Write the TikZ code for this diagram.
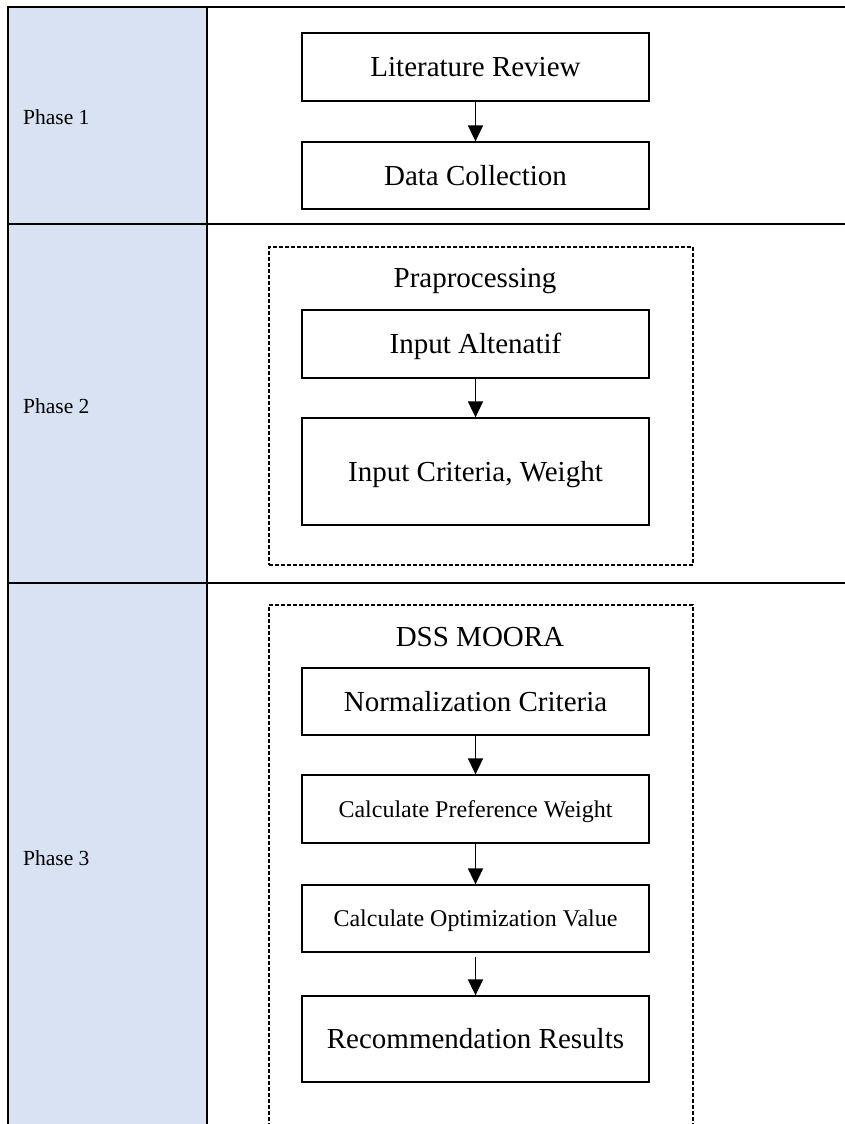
\documentclass[tikz,border=0pt]{standalone}
\usepackage{fontspec}
\setmainfont{Liberation Serif}
\usetikzlibrary{arrows.meta}
\definecolor{phasefill}{HTML}{D9E2F3}
\begin{document}
\begin{tikzpicture}[x=1pt,y=-1pt,
  tableline/.style={draw=black,line width=2pt},
  phaselabel/.style={anchor=base west,inner sep=0pt,font=\fontsize{21.5}{25}\selectfont},
  stepbox/.style={draw=black,line width=1.3pt,minimum width=347pt,inner sep=0pt,align=center,
    font=\fontsize{29}{34}\selectfont,text height=25pt,text depth=6pt},
  smallstep/.style={stepbox,font=\fontsize{24}{28}\selectfont,text height=21pt,text depth=5pt},
  groupbox/.style={draw=black,line width=1.1pt,dash pattern=on 4pt off 2pt,inner sep=0pt,minimum width=424pt},
  grouptitle/.style={anchor=base,inner sep=0pt,font=\fontsize{29}{34}\selectfont},
  flow/.style={draw=black,line width=1.7pt,-{Triangle[width=15pt,length=16pt]}}
]
\useasboundingbox (0,0) rectangle (845,1124);
\clip (0,0) rectangle (845,1124);
\fill[white] (0,0) rectangle (845,1124);
% phase column
\fill[phasefill] (8,7) rectangle (207,1140);
\draw[tableline] (8,1140) -- (8,7) -- (850,7);
\draw[tableline] (207,7) -- (207,1140);
\draw[tableline] (8,224) -- (850,224);
\draw[tableline] (8,583) -- (850,583);
% phase labels
\node[phaselabel] (p1) at (23,124) {Phase 1};
\node[phaselabel] (p2) at (23,413) {Phase 2};
\node[phaselabel] (p3) at (23,865) {Phase 3};
% phase 1
\node[stepbox,minimum height=68pt] (lit) at (475.5,67) {Literature Review};
\node[stepbox,minimum height=67pt] (data) at (475.5,175.5) {Data Collection};
\draw[flow] (lit.south) -- (data.north);
% phase 2
\node[groupbox,minimum height=318pt] (pre) at (481,406) {};
\node[grouptitle] (pretitle) at (475,287) {Praprocessing};
\node[stepbox,minimum height=68pt] (alt) at (475.5,344) {Input Altenatif};
\node[stepbox,minimum height=107pt] (crit) at (475.5,471.5) {Input Criteria, Weight};
\draw[flow] (alt.south) -- (crit.north);
% phase 3
\node[groupbox,minimum height=560pt] (dss) at (481,885) {};
\node[grouptitle] (dsstitle) at (480,646) {DSS MOORA};
\node[stepbox,minimum height=67pt] (norm) at (475.5,701.5) {Normalization Criteria};
\node[smallstep,minimum height=68pt] (pref) at (475.5,809) {Calculate Preference Weight};
\node[smallstep,minimum height=67pt] (opt) at (475.5,918.5) {Calculate Optimization Value};
\node[stepbox,minimum height=86pt] (rec) at (475.5,1039) {Recommendation Results};
\draw[flow] (norm.south) -- (pref.north);
\draw[flow] (pref.south) -- (opt.north);
\draw[flow,shorten <=4pt] (opt.south) -- (rec.north);
\end{tikzpicture}
\end{document}
